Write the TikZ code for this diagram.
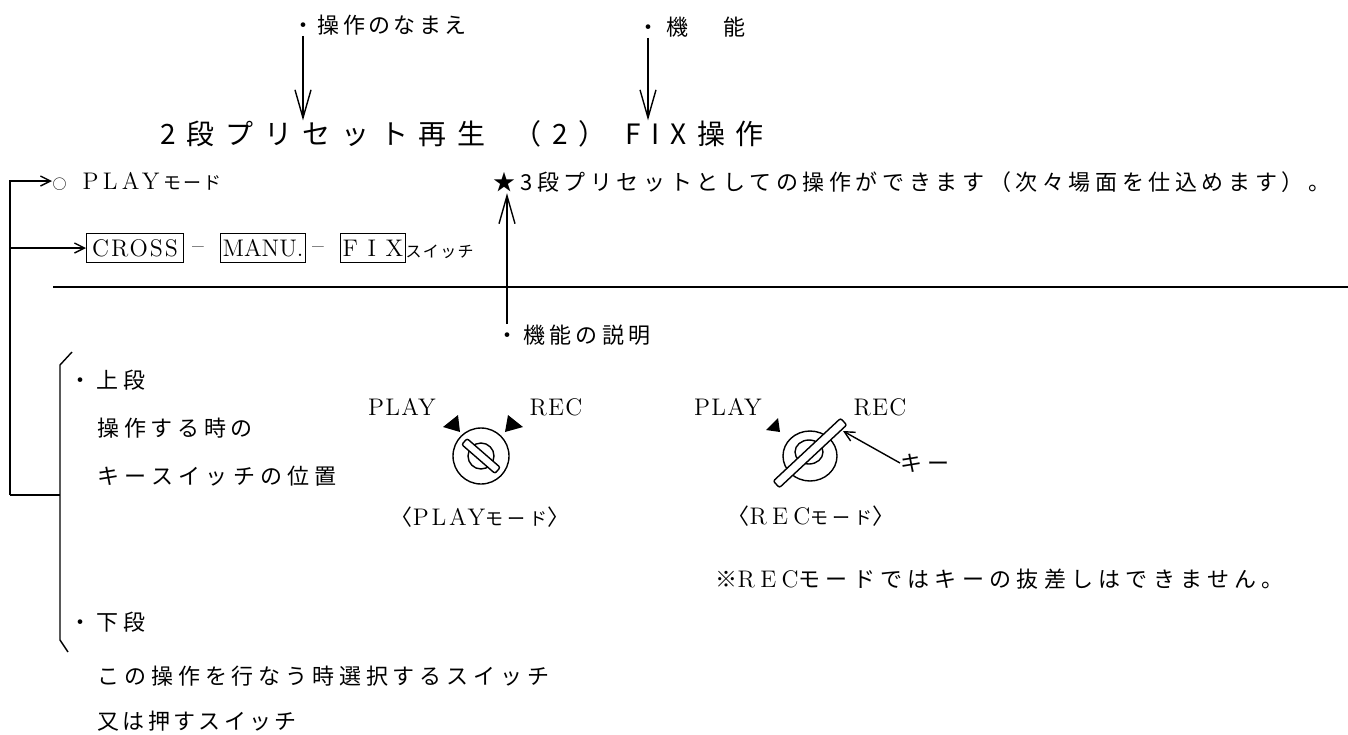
\documentclass[tikz,border=0pt]{standalone}
\usepackage{fontspec}
\usetikzlibrary{arrows.meta,calc}
\newfontfamily\jpf[LetterSpace=22]{Noto Sans CJK JP}
\newfontfamily\romf[LetterSpace=5]{Latin Modern Roman}
\newcommand\rom[2][10]{{\romf\addfontfeature{LetterSpace=#1}#2}}
\begin{document}
\begin{tikzpicture}[x=0.5pt, y=-0.5pt, line width=0.7pt,
  every node/.style={inner sep=0pt, font=\jpf\fontsize{11}{13}\selectfont},
  jptext/.style={anchor=west},
  titletext/.style={font=\jpf\fontsize{14}{16}\selectfont\addfontfeature{LetterSpace=38}},
  swbox/.style={draw, line width=0.6pt, minimum height=14.5pt, inner xsep=1pt, font=\romf\fontsize{12}{14}\selectfont\addfontfeature{LetterSpace=0}},
  latin/.style={font=\romf\fontsize{12}{14}\selectfont},
  longarrow/.style={-{Straight Barb[length=14pt,width=8pt]}},
  shortarrow/.style={-{Straight Barb[length=5pt,width=5pt]}}]
  \useasboundingbox (0,0) rectangle (1348,734);

  % heading and its labels
  \node [jptext, font=\jpf\fontsize{11}{13}\selectfont\addfontfeature{LetterSpace=15}] (opname) at (292,25) {・操作のなまえ};
  \node [jptext, font=\jpf\fontsize{11}{13}\selectfont\addfontfeature{LetterSpace=30}] (funcname) at (637,27) {・機　能};
  \node [jptext, titletext] (title) at (160,134) {2段プリセット再生};
  \node [titletext] (titlenum) at (560,134) {（2）};
  \node [jptext, titletext] (titlefix) at (625,134) {FIX操作};
  \coordinate (opdot) at ($(opname.south west)+(11,0)$);
  \coordinate (funcdot) at ($(funcname.south west)+(11,0)$);
  \draw [longarrow] (opdot) -- (opdot |- title.north);
  \draw [longarrow] (funcdot) -- (funcdot |- titlefix.north);

  % mode and switches
  \node [jptext] (playmode) at (52,181) {{\fontsize{7}{8}\selectfont ○}\hspace{8pt}{\fontsize{12}{14}\selectfont\rom[18]{PLAY}}\hspace{2pt}{\fontsize{9}{10}\selectfont\addfontfeature{LetterSpace=10}モード}};
  \node [jptext, swbox, minimum width=48.5pt, font=\romf\fontsize{12}{14}\selectfont\addfontfeature{LetterSpace=8}] (cross) at (86,248) {CROSS};
  \node [latin] (dashA) at (198,250) {–};
  \node [jptext, swbox, minimum width=40pt] (manu) at (220,248) {MANU.};
  \node [latin] (dashB) at (318,250) {–};
  \node [jptext, swbox, minimum width=30pt] (fix) at (340,248) {\rom[40]{FIX}};
  \node [jptext, font=\jpf\fontsize{8}{9}\selectfont\addfontfeature{LetterSpace=8}] (swlabel) at (405,252) {スイッチ};
  \node [jptext, font=\jpf\fontsize{11}{13}\selectfont\addfontfeature{LetterSpace=21}] (result) at (493,182) {★3段プリセットとしての操作ができます（次々場面を仕込めます）。};

  \draw (53,287) -- (1348,287);
  \node [jptext, font=\jpf\fontsize{11}{13}\selectfont\addfontfeature{LetterSpace=20}] (funcdesc) at (496,335) {・機能の説明};
  \coordinate (descdot) at ($(funcdesc.north west)+(11,0)$);
  \draw [longarrow] (descdot) -- (descdot |- result.south);

  % left bracket
  \coordinate (join) at (10,495);
  \draw [shortarrow] (join) |- (playmode.west);
  \draw [shortarrow] (join |- cross.west) -- (cross.west);
  \draw (join) -- (60,495);
  \draw (72,352) -- (60,365) -- (60,640) -- (68,652);

  \node [jptext] (upper) at (69,380) {・上段};
  \node [jptext, font=\jpf\fontsize{11}{13}\selectfont\addfontfeature{LetterSpace=21}] (upperA) at (97,428) {操作する時の};
  \node [jptext, font=\jpf\fontsize{11}{13}\selectfont\addfontfeature{LetterSpace=24}] (upperB) at (97,476) {キースイッチの位置};
  \node [jptext] (lower) at (69,622) {・下段};
  \node [jptext] (lowerA) at (97,676) {この操作を行なう時選択するスイッチ};
  \node [jptext, font=\jpf\fontsize{11}{13}\selectfont\addfontfeature{LetterSpace=15}] (lowerB) at (97,721) {又は押すスイッチ};

  % key switch, PLAY position
  \node [latin] (playA) at (402,407) {PLAY};
  \node [latin] (recA) at (556,407) {REC};
  \coordinate (keyA) at (481,456);
  \draw (keyA) circle [radius=28];
  \draw (keyA) circle [radius=13];
  \begin{scope}[shift={(keyA)}, rotate=-41]
    \draw [fill=white, rounded corners=1pt] (-22,-4) rectangle (22,4);
  \end{scope}
  \fill (443,427) -- (458,415) -- (460,432) -- cycle;
  \fill (505,432) -- (508,415) -- (523,427) -- cycle;
  \node (playlbl) at (480,517) {〈{\fontsize{12}{14}\selectfont\rom[12]{PLAY}}{\fontsize{9}{10}\selectfont モード}〉};

  % key switch, REC position
  \node [latin] (playB) at (728,407) {PLAY};
  \node [latin] (recB) at (880,407) {REC};
  \coordinate (keyB) at (810,456);
  \draw (keyB) ellipse [x radius=27, y radius=25];
  \draw ($(keyB)+(-1,-4)$) ellipse [x radius=14, y radius=12];
  \begin{scope}[shift={(810,453)}, rotate=43]
    \draw [fill=white, rounded corners=1pt] (-46,-4.5) rectangle (46,4.5);
  \end{scope}
  \fill (766,430) -- (778,418) -- (780,432) -- cycle;
  \node [jptext] (keylbl) at (900,463) {キー};
  \coordinate (keytip) at (843,431);
  \draw [shortarrow] (keylbl.west) -- (keytip);
  \node (reclbl) at (811,516) {〈{\fontsize{12}{14}\selectfont\rom[22]{REC}}{\fontsize{9}{10}\selectfont モード}〉};

  \node [jptext, font=\jpf\fontsize{11}{13}\selectfont\addfontfeature{LetterSpace=24}] (note) at (715,579) {※{\fontsize{12}{14}\selectfont\rom[22]{REC}}モードではキーの抜差しはできません。};
\end{tikzpicture}
\end{document}
